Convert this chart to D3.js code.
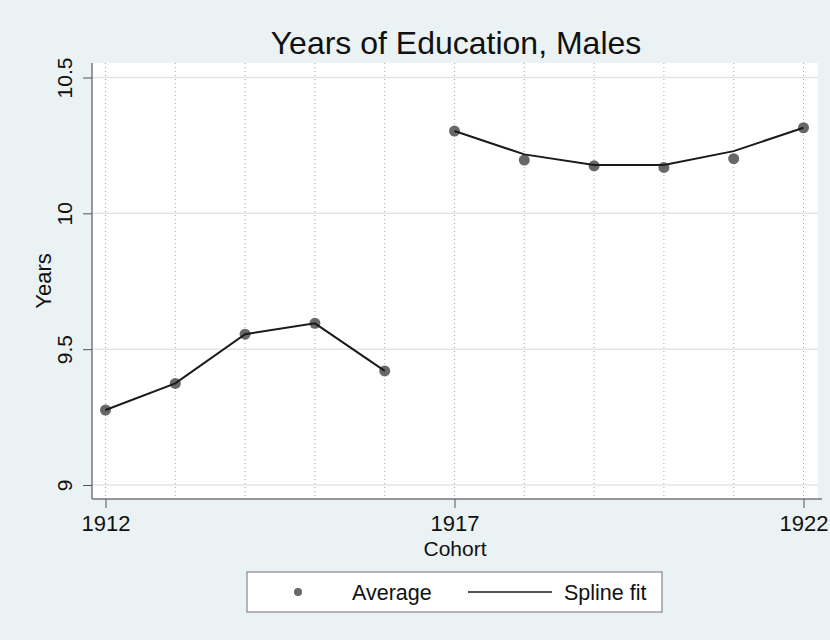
<!DOCTYPE html>
<html><head><meta charset="utf-8">
<script src="https://cdn.jsdelivr.net/npm/d3@7"></script>
<style>body{margin:0;background:#eaf2f3;} svg{display:block;font-family:"Liberation Sans",Arial,sans-serif;}</style>
</head><body>
<script>
const cohorts = [1912,1913,1914,1915,1916,1917,1918,1919,1920,1921,1922];
const average = [9.276,9.374,9.555,9.595,9.420,10.303,10.196,10.175,10.169,10.201,10.315];
const splineFit = [9.276,9.374,9.555,9.595,9.420,10.303,10.217,10.178,10.178,10.229,10.315];
const splinePiece = [1,1,1,1,1,2,2,2,2,2,2];
const xTicks = [1912,1917,1922];
const yTicks = [9,9.5,10,10.5];
const titleText = "Years of Education, Males";
const xLabel = "Cohort", yLabel = "Years";
const legendLabels = ["Average","Spline fit"];

const W=830,H=640;
const svg=d3.select("body").append("svg").attr("width",W).attr("height",H);
svg.append("rect").attr("width",W).attr("height",H).attr("fill","#eaf2f3");
const x=d3.scaleLinear().domain([1912,1922]).range([105.5,803.5]);
const y=d3.scaleLinear().domain([9,10.5]).range([485,77.5]);
const pl=92,pr=818,pt=63,pb=499;
svg.append("rect").attr("x",pl).attr("y",pt).attr("width",pr-pl).attr("height",pb-pt).attr("fill","#fff");

// horizontal grid
svg.append("g").selectAll("line").data(yTicks).join("line")
 .attr("x1",pl).attr("x2",pr).attr("y1",d=>y(d)).attr("y2",d=>y(d))
 .attr("stroke","#e4e4e4").attr("stroke-width",1.5);
// vertical dotted grid
svg.append("g").selectAll("line").data(cohorts).join("line")
 .attr("x1",d=>x(d)).attr("x2",d=>x(d)).attr("y1",pt).attr("y2",pb)
 .attr("stroke","#a8a8a8").attr("stroke-width",1).attr("stroke-dasharray","1,3");

// axes
const yAxis=d3.axisLeft(y).tickValues(yTicks).tickSize(9).tickFormat(d3.format("~g"));
const gy=svg.append("g").attr("transform",`translate(${pl},0)`).call(yAxis);
gy.select(".domain").attr("d",`M0,${pt}V${pb}`).attr("stroke","#777").attr("stroke-width",1.5);
gy.selectAll(".tick line").attr("stroke","#555");
gy.selectAll(".tick text").attr("font-size",21).attr("fill","#111")
 .attr("transform","rotate(-90)").attr("x",0).attr("y",-20).attr("dy",0).attr("text-anchor","middle");
const xAxis=d3.axisBottom(x).tickValues(xTicks).tickSize(9).tickFormat(d3.format("d"));
const gx=svg.append("g").attr("transform",`translate(0,${pb})`).call(xAxis);
gx.select(".domain").attr("d",`M${pl},0H${pr+4}`).attr("stroke","#777").attr("stroke-width",1.5);
gx.selectAll(".tick line").attr("stroke","#555");
gx.selectAll(".tick text").attr("font-size",22).attr("fill","#111").attr("y",32).attr("dy",0);

svg.append("text").attr("x",455).attr("y",556).attr("text-anchor","middle").attr("font-size",21).attr("fill","#111").text(xLabel);
svg.append("text").attr("transform","translate(51,281) rotate(-90)").attr("text-anchor","middle").attr("font-size",22).attr("fill","#111").text(yLabel);
svg.append("text").attr("x",456).attr("y",54).attr("text-anchor","middle").attr("font-size",32).attr("fill","#111").text(titleText);

// points
const data=cohorts.map((c,i)=>({c,a:average[i],s:splineFit[i],p:splinePiece[i]}));
svg.append("g").selectAll("circle").data(data).join("circle")
 .attr("cx",d=>x(d.c)).attr("cy",d=>y(d.a)).attr("r",5.5).attr("fill","#4d4d4d").attr("opacity",0.85);
const line=d3.line().x(d=>x(d.c)).y(d=>y(d.s));
d3.groups(data,d=>d.p).forEach(([k,arr])=>{
 svg.append("path").attr("d",line(arr)).attr("fill","none").attr("stroke","#1a1a1a").attr("stroke-width",2);
});

// legend
const lg=svg.append("g");
lg.append("rect").attr("x",247).attr("y",572).attr("width",415).attr("height",40).attr("fill","#fff").attr("stroke","#888").attr("stroke-width",1.2);
lg.append("circle").attr("cx",298).attr("cy",592).attr("r",4).attr("fill","#666");
lg.append("text").attr("x",352).attr("y",600).attr("font-size",21.5).attr("fill","#111").text(legendLabels[0]);
lg.append("line").attr("x1",468).attr("x2",552).attr("y1",592).attr("y2",592).attr("stroke","#1a1a1a").attr("stroke-width",1.5);
lg.append("text").attr("x",564).attr("y",600).attr("font-size",21.5).attr("fill","#111").text(legendLabels[1]);
</script>
</body></html>
